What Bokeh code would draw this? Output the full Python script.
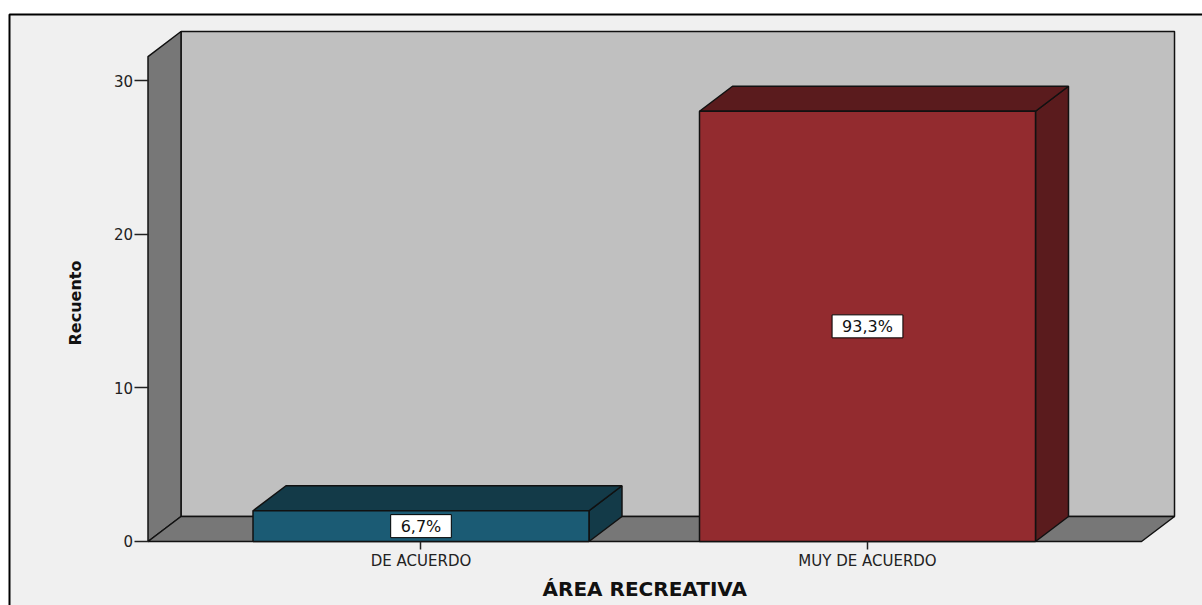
from bokeh.plotting import figure
from bokeh.models import Range1d, FixedTicker, Label, BoxAnnotation, ColumnDataSource
from bokeh.embed import file_html
from bokeh.resources import INLINE
from bokeh.core.properties import value

# ---- data ----
categories = ["DE ACUERDO", "MUY DE ACUERDO"]
counts = [2, 28]
percent_labels = ["6,7%", "93,3%"]
y_ticks = [0, 10, 20, 30]
x_title = "ÁREA RECREATIVA"
y_title = "Recuento"

# ---- style / geometry ----
front_colors = ["#1b5b74", "#932b2f"]
dark_colors = ["#133a48", "#5a1b1d"]
positions = [1, 2]
BW = 0.7525          # bar width (x units)
DX = 0.0739          # 3D depth offset, x units
DY = 1.627           # 3D depth offset, y units
X_LO = 0.3886        # floor front left
X_HI = 2.6137        # floor front right
WALL_TOP = 31.56     # wall height (y units)
FONT = value("DejaVu Sans")
EDGE = "#111111"
BG = "#f0f0f0"

p = figure(width=1202, height=605, output_backend="svg", toolbar_location=None,
           x_range=Range1d(0.058231, 2.750280), y_range=Range1d(-4.1649, 35.2061),
           min_border_left=0, min_border_right=0, min_border_top=0,
           min_border_bottom=0)

p.background_fill_color = "white"
p.border_fill_color = "white"
p.outline_line_color = None
p.xgrid.visible = False
p.ygrid.visible = False

# outer frame of the chart area
p.add_layout(BoxAnnotation(left=9, right=1400, top=14, bottom=800,
                           left_units="canvas", right_units="canvas",
                           top_units="canvas", bottom_units="canvas",
                           fill_color=BG, fill_alpha=1.0,
                           line_color="black", line_alpha=1.0, line_width=2,
                           level="underlay"))

# back wall
p.quad(left=[X_LO + DX], right=[X_HI + DX], bottom=[DY], top=[WALL_TOP + DY],
       fill_color="#c0c0c0", line_color=EDGE, line_width=1.5)
# left wall
p.patch([X_LO, X_LO, X_LO + DX, X_LO + DX], [0, WALL_TOP, WALL_TOP + DY, DY],
        fill_color="#777777", line_color=EDGE, line_width=1.5)
# floor
p.patch([X_LO, X_HI, X_HI + DX, X_LO + DX], [0, 0, DY, DY],
        fill_color="#777777", line_color=EDGE, line_width=1.5)

lefts = [x - BW / 2 for x in positions]
rights = [x + BW / 2 for x in positions]
src = ColumnDataSource(dict(
    left=lefts, right=rights, top=counts, bottom=[0] * len(counts),
    front=front_colors, dark=dark_colors,
    top_xs=[[l, r, r + DX, l + DX] for l, r in zip(lefts, rights)],
    top_ys=[[c, c, c + DY, c + DY] for c in counts],
    side_xs=[[r, r + DX, r + DX, r] for r in rights],
    side_ys=[[0, DY, c + DY, c] for c in counts],
    lx=positions, ly=[c / 2 for c in counts], label=percent_labels,
))

p.patches("side_xs", "side_ys", source=src, fill_color="dark",
          line_color=EDGE, line_width=1.5)
p.patches("top_xs", "top_ys", source=src, fill_color="dark",
          line_color=EDGE, line_width=1.5)
p.quad(left="left", right="right", bottom="bottom", top="top", source=src,
       fill_color="front", line_color=EDGE, line_width=1.5)

p.text(x="lx", y="ly", text="label", source=src, text_align="center",
       text_baseline="middle", text_font=FONT, text_font_size="16px",
       text_color="#111111", background_fill_color="white",
       border_line_color="black", border_line_width=1, padding=(10, 2))

# axes (drawn at the front edges of the floor / left wall)
xa = p.xaxis[0]
xa.fixed_location = 0
xa.ticker = FixedTicker(ticks=positions)
xa.major_label_overrides = {pos: cat for pos, cat in zip(positions, categories)}
xa.axis_line_color = None
xa.major_tick_in = 0
xa.major_tick_out = 8
xa.major_tick_line_color = "#222222"
xa.major_tick_line_width = 1.5
xa.minor_tick_line_color = None
xa.major_label_standoff = 3
xa.major_label_text_font = "DejaVu Sans"
xa.major_label_text_font_size = "15px"
xa.major_label_text_color = "#222222"

ya = p.yaxis[0]
ya.fixed_location = X_LO
ya.ticker = FixedTicker(ticks=y_ticks)
ya.axis_label = y_title
ya.axis_line_color = None
ya.major_tick_in = 0
ya.major_tick_out = 14
ya.major_tick_line_color = "#222222"
ya.major_tick_line_width = 1.5
ya.minor_tick_line_color = None
ya.major_label_standoff = 1
ya.major_label_text_font = "DejaVu Sans"
ya.major_label_text_font_size = "15px"
ya.major_label_text_color = "#222222"
ya.axis_label_standoff = 26
ya.axis_label_text_font = "DejaVu Sans"
ya.axis_label_text_font_size = "16px"
ya.axis_label_text_font_style = "bold"
ya.axis_label_text_color = "#111111"

# x-axis title, centred under the floor
p.add_layout(Label(x=(X_LO + X_HI) / 2, y=588, y_units="canvas", text=x_title,
                   text_align="center", text_baseline="middle",
                   text_font="DejaVu Sans", text_font_size="20px",
                   text_font_style="bold", text_color="#111111"))

open("out.html", "w").write(file_html(p, INLINE))
